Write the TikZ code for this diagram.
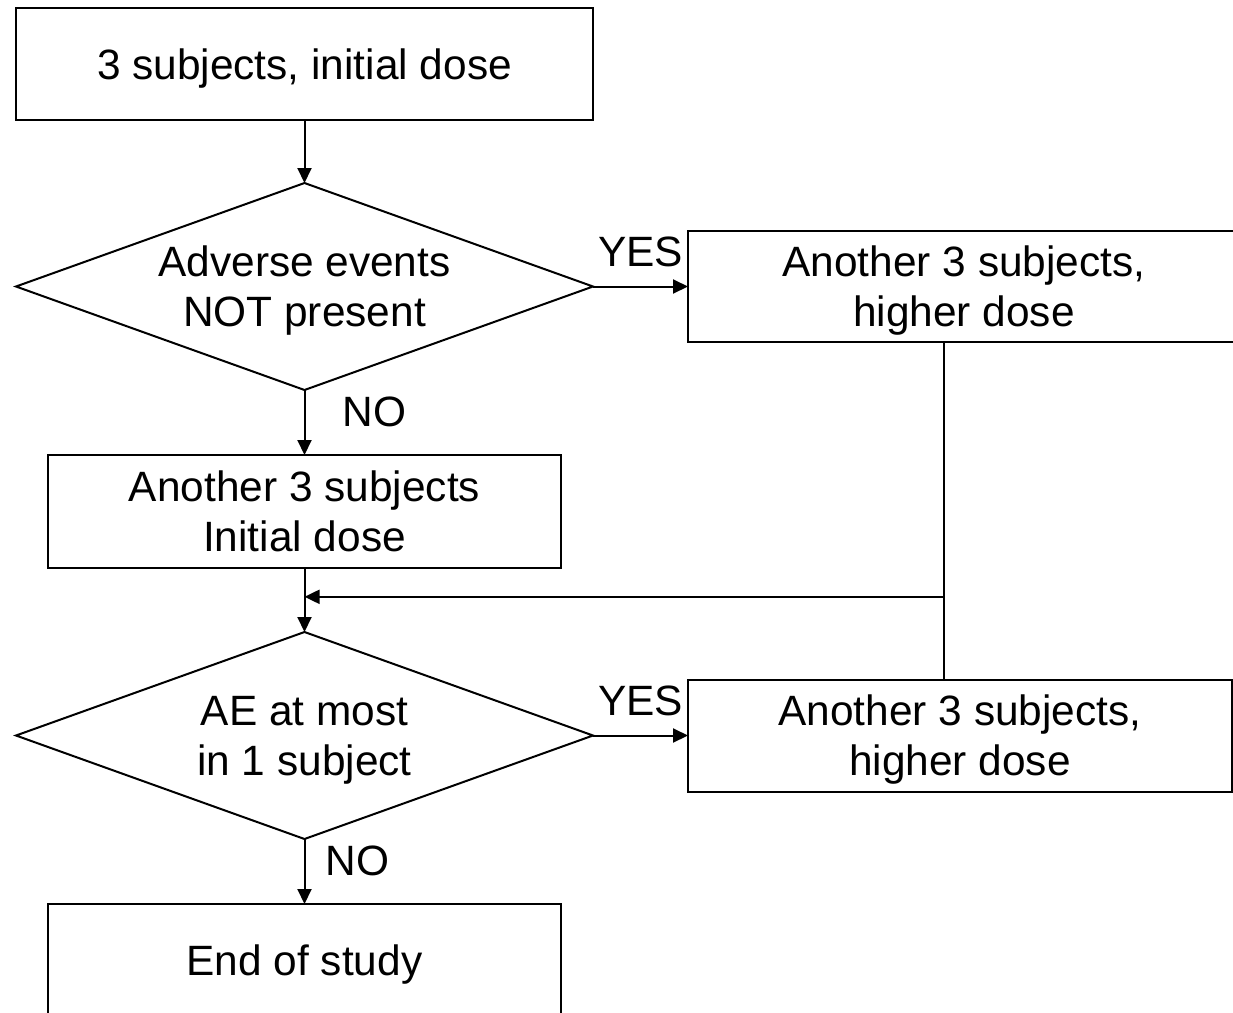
\documentclass[tikz,border=0pt]{standalone}
\usepackage{fontspec}
\setmainfont{Liberation Sans}
\usetikzlibrary{arrows.meta,positioning,calc,shapes.geometric}
\tikzset{
  >={Triangle[length=7.5pt,width=7pt]},
  every node/.style={font=\fontsize{21.2}{25}\selectfont},
  box/.style={draw,line width=1pt,align=center,inner sep=0pt,outer sep=0pt,text depth=0pt,minimum width=256.5pt,minimum height=56.5pt},
  widebox/.style={box,minimum width=288.5pt,minimum height=56pt},
  dosebox/.style={box,minimum width=276pt,minimum height=55.5pt},
  check/.style={draw,line width=1pt,diamond,aspect=2.8,align=center,inner sep=0pt,outer sep=0pt,text depth=0pt,minimum width=288.5pt,minimum height=103.5pt},
  arrow/.style={->,line width=1pt},
  link/.style={line width=1pt},
  tag/.style={inner sep=0pt},
}
\begin{document}
\begin{tikzpicture}[x=0.5pt,y=-0.5pt,node distance=32.5pt and 47.5pt]
\useasboundingbox (0,0) rectangle (1233,1013);

% main column
\node[widebox] (start) at (304.5,64) {3 subjects, initial dose};
\node[check,below=31.5pt of start] (ae1) {Adverse events\\NOT present};
\node[box,below=of ae1] (more) {Another 3 subjects\\Initial dose};
\node[check,below=32pt of more] (ae2) {AE at most\\in 1 subject};
\node[box,below=of ae2] (stop) {End of study};

% dose escalation
\node[dosebox,right=of ae1] (hi1) {Another 3 subjects,\\higher dose};
\node[dosebox,minimum width=272pt,minimum height=56pt,right=of ae2] (hi2) {Another 3 subjects,\\higher dose};

\draw[arrow] (start) -- (ae1);
\draw[arrow] (ae1) -- node[tag,above=9.5pt]{YES} (hi1);
\draw[arrow] (ae1) -- node[tag,pos=0.34,right=18.5pt]{NO} (more);
\draw[arrow] (more) -- (ae2);
\draw[arrow] (ae2) -- node[tag,above=9.5pt]{YES} (hi2);
\draw[arrow] (ae2) -- node[tag,pos=0.34,right=10pt]{NO} (stop);

% back to the second check
\coordinate (join) at ($(more.south)!0.45!(ae2.north)$);
\coordinate (tap) at ([xshift=128pt]hi1.south west);
\draw[link] (tap) -- (tap |- hi2.north);
\draw[arrow] (tap |- join) -- (join);

\end{tikzpicture}
\end{document}
